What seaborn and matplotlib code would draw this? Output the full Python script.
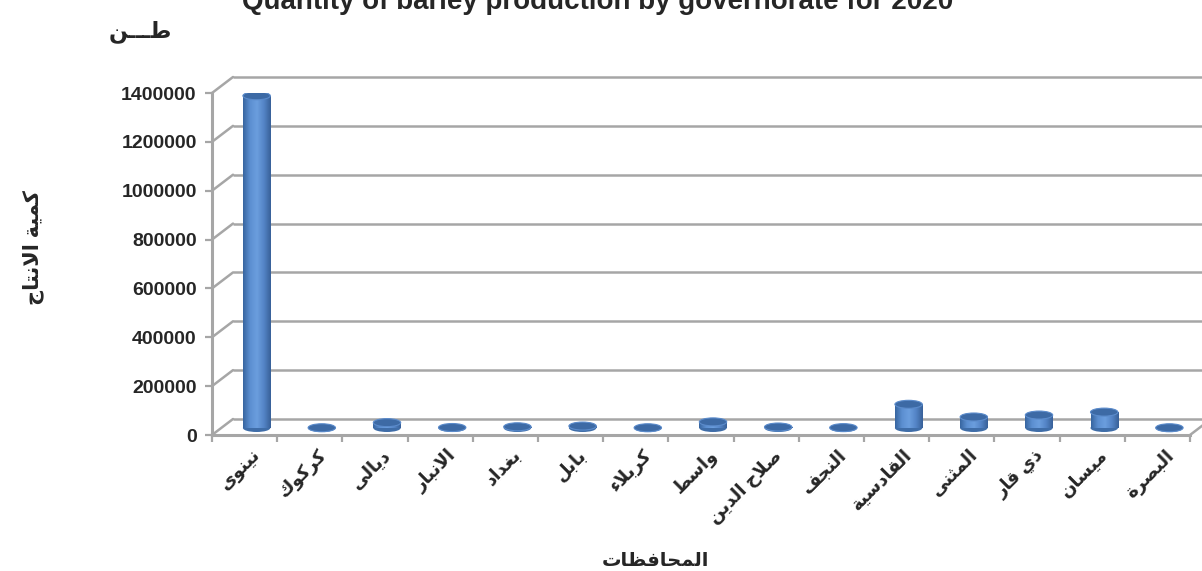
import numpy as np
import matplotlib
matplotlib.use("Agg")
import matplotlib.pyplot as plt
import matplotlib.transforms as mtransforms
from matplotlib.patches import Ellipse
import seaborn as sns
import pandas as pd

# data (tonnes)
governorates = ["نينوى", "كركوك", "ديالى", "الانبار", "بغداد", "بابل", "كربلاء", "واسط",
                "صلاح الدين", "النجف", "القادسية", "المثنى", "ذي قار", "ميسان", "البصرة"]
production = [1360000, 1000, 22000, 2000, 5000, 8000, 1000, 25000,
              4000, 1500, 97000, 45000, 53000, 65000, 1000]
y_ticks = [0, 200000, 400000, 600000, 800000, 1000000, 1200000, 1400000]

title = "Quantity of barley production by governorate for 2020"
unit_label = "طـــن"
y_label = "كمية الانتاج"
x_label = "المحافظات"

# --- minimal Arabic shaping (matplotlib has no complex text layout) ---
FORMS = {
    "ء": (0xFE80, 1), "آ": (0xFE81, 2), "أ": (0xFE83, 2), "ؤ": (0xFE85, 2),
    "إ": (0xFE87, 2), "ئ": (0xFE89, 4), "ا": (0xFE8D, 2), "ب": (0xFE8F, 4),
    "ة": (0xFE93, 2), "ت": (0xFE95, 4), "ث": (0xFE99, 4), "ج": (0xFE9D, 4),
    "ح": (0xFEA1, 4), "خ": (0xFEA5, 4), "د": (0xFEA9, 2), "ذ": (0xFEAB, 2),
    "ر": (0xFEAD, 2), "ز": (0xFEAF, 2), "س": (0xFEB1, 4), "ش": (0xFEB5, 4),
    "ص": (0xFEB9, 4), "ض": (0xFEBD, 4), "ط": (0xFEC1, 4), "ظ": (0xFEC5, 4),
    "ع": (0xFEC9, 4), "غ": (0xFECD, 4), "ف": (0xFED1, 4), "ق": (0xFED5, 4),
    "ك": (0xFED9, 4), "ل": (0xFEDD, 4), "م": (0xFEE1, 4), "ن": (0xFEE5, 4),
    "ه": (0xFEE9, 4), "و": (0xFEED, 2), "ى": (0xFEEF, 2), "ي": (0xFEF1, 4),
}
LAM_ALEF = {"آ": 0xFEF5, "أ": 0xFEF7, "إ": 0xFEF9, "ا": 0xFEFB}
TATWEEL = "\u0640"


def n_forms(u):
    if isinstance(u, tuple):
        return 2
    if u == TATWEEL:
        return 4
    return FORMS.get(u, (0, 0))[1]


def ar(text):
    units = []
    i = 0
    while i < len(text):
        c = text[i]
        if c == "ل" and i + 1 < len(text) and text[i + 1] in LAM_ALEF:
            units.append(("LA", text[i + 1]))
            i += 2
        else:
            units.append(c)
            i += 1
    out = []
    for k, u in enumerate(units):
        prev = units[k - 1] if k > 0 else None
        nxt = units[k + 1] if k + 1 < len(units) else None
        n = n_forms(u)
        jp = n >= 2 and prev is not None and n_forms(prev) == 4
        jn = n == 4 and nxt is not None and n_forms(nxt) >= 2
        if isinstance(u, tuple):
            out.append(chr(LAM_ALEF[u[1]] + (1 if jp else 0)))
        elif u == TATWEEL or n == 0:
            out.append(u)
        else:
            base = FORMS[u][0]
            if n == 4:
                idx = 3 if (jp and jn) else 2 if jn else 1 if jp else 0
            elif n == 2:
                idx = 1 if jp else 0
            else:
                idx = 0
            out.append(chr(base + idx))
    return "".join(reversed(out))


sns.set_style("white")
plt.rcParams["font.family"] = ["Liberation Sans", "DejaVu Sans"]
plt.rcParams["font.weight"] = "bold"

W, H = 1202, 571
fig = plt.figure(figsize=(W / 100, H / 100), dpi=100)
# front frame of the 3D box: x 212..1190 px, y(0)=435 px, y(1.4M)=93 px
ax = fig.add_axes([212 / W, (H - 435) / H, (1190 - 212) / W, (435 - 93) / H])

df = pd.DataFrame({"gov": governorates, "prod": production})
bar_w = 0.42
sns.barplot(data=df, x="gov", y="prod", color="#4F81BD", width=bar_w,
            saturation=1, ax=ax, zorder=3)
ax.set_xlim(-0.5, len(governorates) - 0.5)
ax.set_ylim(0, 1400000)

grey = "#A6A6A6"
back_tr = ax.transData + mtransforms.Affine2D().translate(21, 16)
bar_tr = ax.transData + mtransforms.Affine2D().translate(12, 7)

# data units per pixel for the depth offsets
p0 = ax.transData.transform((0, 0))
p1 = ax.transData.transform((1, 1000000))
ux = 1.0 / (p1[0] - p0[0])
uy = 1000000.0 / (p1[1] - p0[1])
cap_h = 8 * uy

# back wall gridlines + side wall diagonals
for t in y_ticks:
    ax.plot([-0.5, 15.2], [t, t], color=grey, lw=1.8, transform=back_tr,
            clip_on=False, zorder=1, solid_capstyle="butt")
    ax.plot([-0.5, -0.5 + 21 * ux], [t, t + 16 * uy], color=grey, lw=1.8,
            clip_on=False, zorder=1)
ax.plot([14.5, 14.5 + 21 * ux], [0, 16 * uy], color=grey, lw=1.8,
        clip_on=False, zorder=1)

# cylinder look: gradient body, caps
stops = np.array([[0.22, 0.40, 0.63], [0.36, 0.56, 0.82], [0.42, 0.62, 0.87],
                  [0.33, 0.52, 0.78], [0.22, 0.38, 0.60]])
xs = np.linspace(0, 1, 60)
grad = np.stack([np.interp(xs, np.linspace(0, 1, len(stops)), stops[:, c])
                 for c in range(3)], axis=-1)[None, :, :]

for patch, v in zip(ax.patches, production):
    patch.set_transform(bar_tr)
    patch.set_edgecolor("none")
    x0 = patch.get_x()
    xc = x0 + bar_w / 2
    ax.add_patch(Ellipse((xc, 0), bar_w, cap_h, transform=bar_tr,
                         facecolor="#3F6DA8", edgecolor="none", zorder=2.5))
    im = ax.imshow(grad, extent=[x0, x0 + bar_w, 0, v], aspect="auto",
                   transform=bar_tr, zorder=3.2, interpolation="bilinear")
    im.set_clip_path(patch)
    ax.add_patch(Ellipse((xc, v), bar_w, cap_h, transform=bar_tr,
                         facecolor="#3D6AA5", edgecolor="#5B8BCB", lw=0.8,
                         zorder=4))
ax.set_xlim(-0.5, len(governorates) - 0.5)
ax.set_ylim(0, 1400000)

# axes styling
for s in ["top", "right"]:
    ax.spines[s].set_visible(False)
for s in ["left", "bottom"]:
    ax.spines[s].set_color(grey)
    ax.spines[s].set_linewidth(2.2)
    ax.spines[s].set_zorder(5)

ax.set_yticks(y_ticks)
ax.set_yticklabels([str(t) for t in y_ticks], fontsize=14, fontweight="bold")
ax.tick_params(axis="y", direction="out", length=5, width=1.6, color=grey,
               pad=6, left=True)

ax.set_xticks(range(len(governorates)))
ax.set_xticklabels([ar(g) for g in governorates], rotation=45, ha="right",
                   va="top", rotation_mode="anchor", fontsize=13,
                   fontweight="bold")
ax.set_xticks(np.arange(-0.5, len(governorates), 1.0), minor=True)
ax.tick_params(axis="x", which="major", length=0, pad=8)
ax.tick_params(axis="x", which="minor", direction="out", length=5, width=1.6,
               color=grey, bottom=True)
lab_shift = mtransforms.Affine2D().translate(7, 0)
for lab in ax.get_xticklabels():
    lab.set_transform(lab.get_transform() + lab_shift)
ax.set_xlabel("")
ax.set_ylabel("")
ax.grid(False)
ax.set_facecolor("none")

fig.text(598 / W, (H - 9) / H, title, ha="center", va="baseline",
         fontsize=20, fontweight="bold")
fig.text(140 / W, (H - 32) / H, ar(unit_label), ha="center", va="center",
         fontsize=16, fontweight="bold")
fig.text(33 / W, (H - 248) / H, ar(y_label), ha="center", va="center",
         rotation=90, fontsize=15, fontweight="bold")
fig.text(655 / W, (H - 562) / H, ar(x_label), ha="center", va="center",
         fontsize=14, fontweight="bold")

fig.savefig("out.png", dpi=100)
